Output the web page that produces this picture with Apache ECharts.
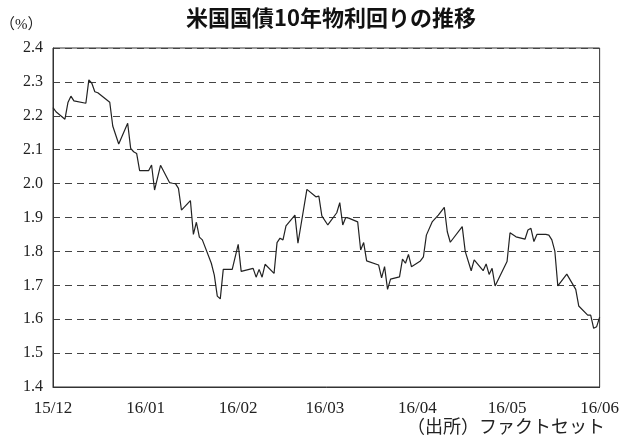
<!DOCTYPE html>
<html><head><meta charset="utf-8">
<script src="https://cdn.jsdelivr.net/npm/echarts@6/dist/echarts.min.js"></script>
<style>html,body{margin:0;padding:0;background:#fff}#c{width:622px;height:437px}</style>
</head><body><div id="c"></div>
<script>
const dates = [
 '2015-12-17','2015-12-18','2015-12-21','2015-12-22','2015-12-23','2015-12-24','2015-12-28','2015-12-29','2015-12-30','2015-12-31',
 '2016-01-01','2016-01-05','2016-01-06','2016-01-08','2016-01-11','2016-01-12','2016-01-13','2016-01-14','2016-01-15','2016-01-18',
 '2016-01-19','2016-01-20','2016-01-22','2016-01-25','2016-01-26','2016-01-27','2016-01-28','2016-01-29','2016-02-01','2016-02-02',
 '2016-02-03','2016-02-04','2016-02-05','2016-02-08','2016-02-09','2016-02-10','2016-02-11','2016-02-12','2016-02-15','2016-02-17',
 '2016-02-18','2016-02-22','2016-02-23','2016-02-24','2016-02-25','2016-02-26','2016-02-29','2016-03-01','2016-03-02','2016-03-03',
 '2016-03-04','2016-03-07','2016-03-08','2016-03-11','2016-03-14','2016-03-15','2016-03-16','2016-03-18','2016-03-21','2016-03-22',
 '2016-03-23','2016-03-24','2016-03-25','2016-03-28','2016-03-29','2016-03-30','2016-03-31','2016-04-04','2016-04-05','2016-04-06',
 '2016-04-07','2016-04-08','2016-04-11','2016-04-12','2016-04-13','2016-04-14','2016-04-15','2016-04-18','2016-04-19','2016-04-20',
 '2016-04-22','2016-04-24','2016-04-26','2016-04-27','2016-04-28','2016-05-02','2016-05-03','2016-05-05','2016-05-06','2016-05-09',
 '2016-05-10','2016-05-11','2016-05-12','2016-05-13','2016-05-17','2016-05-18','2016-05-20','2016-05-23','2016-05-24','2016-05-25',
 '2016-05-26','2016-05-27','2016-05-30','2016-05-31','2016-06-01','2016-06-02','2016-06-03','2016-06-06','2016-06-09','2016-06-10',
 '2016-06-13','2016-06-14','2016-06-15','2016-06-16','2016-06-17'
];
const yields = [
 2.224,2.212,2.190,2.239,2.258,2.244,2.237,2.306,2.296,2.271,
 2.268,2.240,2.170,2.117,2.178,2.104,2.094,2.089,2.038,2.038,
 2.055,1.981,2.054,2.003,2.001,2.000,1.986,1.922,1.950,1.850,
 1.886,1.842,1.834,1.765,1.730,1.668,1.660,1.747,1.747,1.821,
 1.741,1.750,1.724,1.747,1.724,1.762,1.735,1.826,1.839,1.834,
 1.875,1.907,1.824,1.983,1.961,1.963,1.905,1.878,1.914,1.944,
 1.878,1.900,1.898,1.887,1.804,1.826,1.772,1.760,1.722,1.755,
 1.688,1.718,1.725,1.777,1.765,1.791,1.755,1.772,1.784,1.848,
 1.888,1.907,1.930,1.858,1.827,1.873,1.800,1.743,1.775,1.743,
 1.763,1.732,1.750,1.698,1.770,1.855,1.843,1.836,1.863,1.868,
 1.829,1.850,1.850,1.848,1.834,1.801,1.698,1.733,1.688,1.639,
 1.612,1.612,1.573,1.578,1.606
];
const xTickDates = ['2015-12-17','2016-01-17','2016-02-17','2016-03-17','2016-04-17','2016-05-17','2016-06-17'];
const xTickLabels = ['15/12','16/01','16/02','16/03','16/04','16/05','16/06'];
const yMin = 1.4, yMax = 2.4, yStep = 0.1;
const titleText = '米国国債10年物利回りの推移';
const unitText = '（%）';
const sourceText = '（出所）ファクトセット';

function ts(s){const p=s.split('-').map(Number);return Date.UTC(p[0],p[1]-1,p[2]);}
const tickTs = xTickDates.map(ts);
const seriesData = dates.map((d,i)=>[ts(d), yields[i]]);

const chart = echarts.init(document.getElementById('c'), null, {renderer:'canvas'});
const serif = "'Liberation Serif','Noto Sans CJK JP',serif";
chart.setOption({
  animation:false,
  grid:{left:53,right:22,top:48,bottom:50,show:true,borderColor:'#333',borderWidth:1,backgroundColor:'transparent'},
  xAxis:{
    type:'value', min:tickTs[0], max:tickTs[tickTs.length-1], scale:true,
    axisLine:{show:true,lineStyle:{color:'#333',width:1}},
    axisTick:{show:false},
    splitLine:{show:false},
    axisLabel:{
      customValues:tickTs, margin:13, color:'#222', fontFamily:serif, fontSize:17,
      showMinLabel:true, showMaxLabel:true,
      formatter:function(v){const i=tickTs.indexOf(v);return i>=0?xTickLabels[i]:'';}
    }
  },
  yAxis:{
    type:'value', min:yMin, max:yMax, interval:yStep,
    axisLine:{show:true,lineStyle:{color:'#333',width:1}},
    axisTick:{show:false},
    axisLabel:{color:'#222',fontFamily:serif,fontSize:16,margin:10,formatter:v=>v.toFixed(1)},
    splitLine:{show:true,lineStyle:{color:'#444',width:1,type:[7,5]}}
  },
  graphic:[
    {type:'text',x:331,y:18,style:{text:titleText,fill:'#111',font:"bold 22px 'Noto Sans CJK JP'",textAlign:'center',textVerticalAlign:'middle'}},
    {type:'text',x:0,y:25,style:{text:unitText,fill:'#222',font:"15px 'Liberation Serif','Noto Sans CJK JP'",textAlign:'left',textVerticalAlign:'middle'}},
    {type:'text',x:605,y:428,style:{text:sourceText,fill:'#222',font:"18px 'Liberation Serif','Noto Sans CJK JP'",textAlign:'right',textVerticalAlign:'middle'}}
  ],
  series:[{
    type:'line', data:seriesData, showSymbol:false, symbol:'none',
    lineStyle:{color:'#222',width:1.2}, z:5
  }]
});
</script></body></html>
